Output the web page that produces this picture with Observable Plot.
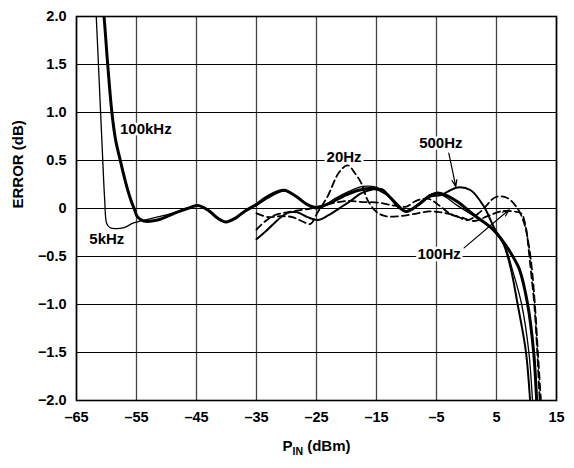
<!DOCTYPE html>
<html>
<head>
<meta charset="utf-8">
<script src="https://cdn.jsdelivr.net/npm/d3@7"></script>
<script src="https://cdn.jsdelivr.net/npm/@observablehq/plot@0.6"></script>
<style>
  html, body { margin: 0; padding: 0; background: #fff; }
  svg { display: block; }
</style>
</head>
<body>
<script>
// ---- data (dBm, error dB) ----
const X_TICKS = [-65, -55, -45, -35, -25, -15, -5, 5, 15];
const Y_TICKS = [-2, -1.5, -1, -0.5, 0, 0.5, 1, 1.5, 2];

const s100kHz = [[-60.6,2.1],[-60.4,1.99],[-59.8,1.5],[-59.1,1.0],[-58.5,0.72],[-57.7,0.5],[-56.8,0.27],[-56.0,0.1],[-55.4,0.0],[-54.8,-0.09],[-53.8,-0.13],[-51.5,-0.12],[-48.7,-0.05],[-46.5,0.0],[-44.8,0.03],[-43,-0.02],[-41.5,-0.1],[-40.1,-0.14],[-38.5,-0.1],[-37,-0.03],[-35.1,0.04],[-33,0.13],[-30.4,0.19],[-28.5,0.13],[-26.5,0.04],[-25,0.01],[-23,0.05],[-20.5,0.13],[-18,0.19],[-15.5,0.21],[-13.5,0.16],[-12,0.07],[-10.1,-0.03],[-8,0.04],[-6.2,0.13],[-5,0.16],[-3.5,0.14],[-1.5,0.07],[1.3,-0.07],[4.1,-0.2],[6.3,-0.36],[8,-0.53],[8.8,-0.63],[10.2,-1.0],[11.2,-1.5],[11.7,-2.0],[11.8,-2.1]];

const s5kHz = [[-61.8,2.1],[-61.7,1.99],[-61.2,1.3],[-60.7,0.61],[-60.3,0.09],[-59.95,-0.16],[-59.4,-0.2],[-58.5,-0.21],[-57.1,-0.2],[-55.5,-0.15],[-54.3,-0.13],[-50.9,-0.08],[-48.5,-0.04],[-46.5,0.0],[-44.8,0.03],[-43,-0.02],[-41.5,-0.1],[-40.1,-0.14],[-38.5,-0.1],[-37,-0.03],[-35,0.03],[-33,0.11],[-30.4,0.18],[-28,0.11],[-25.5,0.0],[-24.5,0.0],[-22,0.1],[-19.5,0.18],[-17.3,0.23],[-15,0.22],[-13.2,0.14],[-11.5,0.02],[-10.2,-0.03],[-8,0.05],[-6.2,0.14],[-5,0.16],[-3.5,0.12],[-1.5,0.03],[1.3,-0.08],[4.1,-0.2],[6.3,-0.38],[7.7,-0.65],[9.2,-1.0],[10.4,-1.5],[11.0,-2.0],[11.1,-2.1]];

const s500Hz = [[-35,-0.32],[-33.5,-0.24],[-32,-0.15],[-30.5,-0.07],[-29.5,-0.04],[-28.2,-0.04],[-26.5,-0.09],[-24.8,-0.12],[-23,-0.07],[-21,0.01],[-19.3,0.08],[-17.5,0.16],[-15.5,0.2],[-14,0.2],[-12.8,0.12],[-11.3,0.01],[-10,-0.03],[-8,0.04],[-6.3,0.12],[-4.3,0.14],[-3,0.18],[-1.5,0.22],[0.7,0.19],[2.9,0.02],[4.6,-0.2],[6.3,-0.39],[7.4,-0.63],[8.5,-0.99],[9.9,-1.49],[10.6,-2.0],[10.7,-2.1]];

const s20Hz = [[-35,-0.05],[-33,-0.09],[-31,-0.08],[-29,-0.09],[-27.5,-0.13],[-26,-0.16],[-24.8,-0.04],[-23.2,0.12],[-21.2,0.38],[-19.8,0.45],[-18.5,0.36],[-17.5,0.26],[-16.5,0.09],[-15.1,-0.03],[-13.5,-0.08],[-11.2,-0.08],[-9,-0.06],[-6.2,-0.03],[-4.3,-0.04],[-2,-0.07],[0.2,-0.12],[2.4,-0.03],[4.9,0.12],[6.8,0.11],[8.5,0.0],[9.6,-0.15],[10.4,-0.39],[10.9,-0.63],[11.4,-1.0],[11.9,-1.5],[12.4,-2.0],[12.5,-2.1]];

const s100Hz = [[-35,-0.22],[-33.5,-0.13],[-32,-0.07],[-30,-0.04],[-28,-0.02],[-26,0.0],[-24,0.03],[-22,0.06],[-19.5,0.08],[-17.9,0.07],[-14.6,0.06],[-12,0.03],[-10,0.02],[-8.4,0.08],[-6.3,0.1],[-4.3,0.02],[-2.6,-0.06],[-0.5,-0.1],[1.3,-0.13],[3.5,-0.08],[5.7,-0.03],[7.7,-0.03],[9.1,-0.05],[9.9,-0.2],[10.4,-0.45],[10.7,-0.63],[11.3,-1.0],[11.8,-1.5],[12.2,-2.0],[12.3,-2.1]];

const LABEL_TEXT = ["100kHz", "5kHz", "20Hz", "500Hz", "100Hz"];
const LABEL_X    = [-53.45, -59.95, -20.4, -4.28, -4.57];
const LABEL_Y    = [0.83, -0.316, 0.538, 0.676, -0.479];

const ARROWS = [
  {x1: -2.95, y1: 0.576, x2: -1.78, y2: 0.228},  // 500Hz
  {x1: -0.4,  y1: -0.41, x2: 7.1,   y2: -0.013}  // 100Hz
];

// ---- build tables ----
const toRows = (arr) => arr.map(([x, y]) => ({x, y}));
const labels = LABEL_TEXT.map((t, i) => ({text: t, x: LABEL_X[i], y: LABEL_Y[i]}));

const dash = s => s < 0 ? "\u2013" + s.slice(1) : s;
const fmtY = d => d === 0 ? "0" : dash(d3.format(".1f")(d));
const fmtX = d => dash(String(d));

const FONT = "'Liberation Sans', Arial, Helvetica, sans-serif";

const lineOpts = {x: "x", y: "y", curve: "catmull-rom", clip: true, stroke: "black"};

const plot = Plot.plot({
  width: 574,
  height: 468,
  marginLeft: 76,
  marginRight: 18,
  marginTop: 16,
  marginBottom: 68,
  style: {fontFamily: FONT, fontWeight: "bold", fontSize: "14px", background: "white", color: "black"},
  x: {domain: [-65, 15]},
  y: {domain: [-2, 2]},
  marks: [
    Plot.ruleX(X_TICKS, {stroke: "#444", strokeWidth: 1.3}),
    Plot.ruleY(Y_TICKS, {stroke: "#000", strokeWidth: 1.2}),
    Plot.axisX({ticks: X_TICKS, tickFormat: fmtX, tickSize: 0, tickPadding: 11, label: null, fontSize: 14.5}),
    Plot.axisY({ticks: Y_TICKS, tickFormat: fmtY, tickSize: 0, tickPadding: 10, label: null, fontSize: 14.5}),
    Plot.text(labels, {x: "x", y: "y", text: "text", fontSize: 15, fontWeight: "bold",
      stroke: "white", strokeWidth: 5, fill: "black", paintOrder: "stroke"}),
    Plot.line(toRows(s20Hz),  {...lineOpts, strokeWidth: 1.8, strokeDasharray: "7,4"}),
    Plot.line(toRows(s100Hz), {...lineOpts, strokeWidth: 1.8, strokeDasharray: "7,4"}),
    Plot.line(toRows(s500Hz), {...lineOpts, strokeWidth: 2}),
    Plot.line(toRows(s5kHz),  {...lineOpts, strokeWidth: 1.3}),
    Plot.line(toRows(s100kHz),{...lineOpts, strokeWidth: 3}),
    Plot.arrow(ARROWS, {x1: "x1", y1: "y1", x2: "x2", y2: "y2", stroke: "black", strokeWidth: 1.2, headLength: 9, headAngle: 40}),
    Plot.text(["ERROR (dB)"], {text: d => d, frameAnchor: "left", dx: -58, rotate: -90, fontSize: 15, fontWeight: "bold"}),
    Plot.text(["P"], {text: d => d, frameAnchor: "bottom", dy: 50, fontSize: 15, fontWeight: "bold", className: "xlabel"}),
    Plot.frame({stroke: "black", strokeWidth: 1.6})
  ]
});

document.body.appendChild(plot);

// subscript in x label
const t = plot.querySelector("g.xlabel text");
if (t) {
  t.textContent = "";
  const sel = d3.select(t);
  sel.append("tspan").text("P");
  sel.append("tspan").attr("dy", 4).attr("font-size", 10.5).text("IN");
  sel.append("tspan").attr("dy", -4).text(" (dBm)");
}
</script>
</body>
</html>
